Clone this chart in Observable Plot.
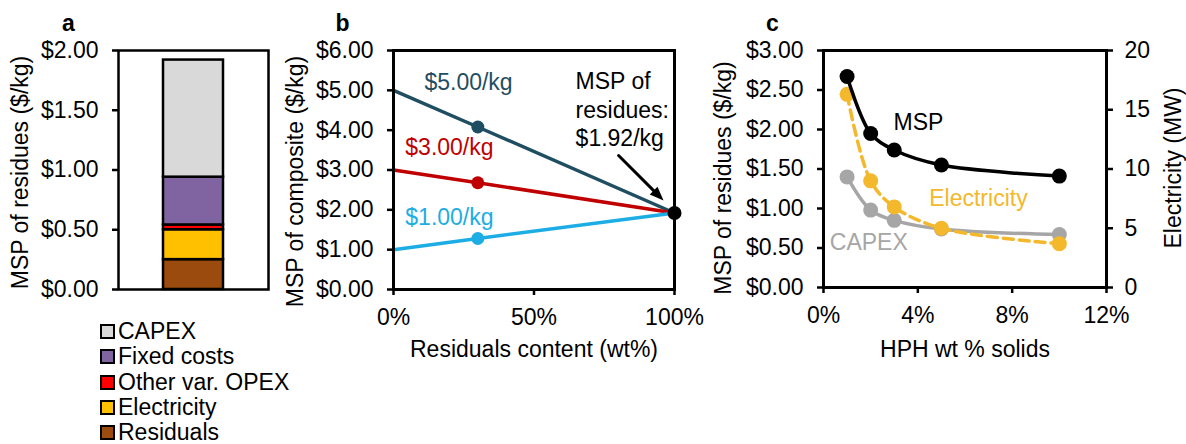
<!DOCTYPE html>
<html><head><meta charset="utf-8">
<script src="https://cdn.jsdelivr.net/npm/d3@7"></script>
<script src="https://cdn.jsdelivr.net/npm/@observablehq/plot@0.6"></script>
<style>
body{margin:0;background:#fff;font-family:"Liberation Sans",Arial,sans-serif;}
#chart{position:relative;width:1186px;height:444px;overflow:hidden;background:#fff;}
#chart svg{position:absolute;top:0;overflow:visible;background:transparent;max-width:none;}
#legend{position:absolute;left:100px;top:319px;font-size:23px;color:#000;}
.item{display:flex;align-items:center;height:25.3px;white-space:nowrap;}
.sw{width:11px;height:11px;border:2px solid #000;margin-right:3px;flex:none;}
</style></head><body><div id="chart"><div id="legend"></div></div>
<script>
// ---------- Panel a data ----------
const costComponents = ["Residuals", "Electricity", "Other var. OPEX", "Fixed costs", "CAPEX"];
const costValues = [0.25, 0.25, 0.04, 0.40, 0.98];
const costColors = ["#9A4B0D", "#FFC000", "#FF0000", "#8064A2", "#D9D9D9"];
const aTicks = [0, 0.5, 1, 1.5, 2];

// ---------- Panel b data ----------
const residualShare = [0, 0.3, 1];
const priceLabels = ["$5.00/kg", "$3.00/kg", "$1.00/kg"];
const price5 = [5.00, 4.08, 1.92];
const price3 = [3.00, 2.68, 1.92];
const price1 = [1.00, 1.28, 1.92];
const priceColors = ["#1F4E62", "#C00000", "#1CADE4"];
const mspResidues = 1.92;
const bYTicks = [0, 1, 2, 3, 4, 5, 6];
const bXTicks = [0, 0.5, 1];
const bLabelX = [0.267, 0.199, 0.199];
const bLabelY = [5.20, 3.565, 1.815];
const mspNote = "MSP of\nresidues:\n$1.92/kg";
const mspNoteAt = [0.648, 4.54];
const arrowFrom = [0.801, 3.364];
const arrowTo = [0.961, 2.234];

// ---------- Panel c data ----------
const solids = [0.01, 0.02, 0.03, 0.05, 0.10];
const msp = [2.67, 1.95, 1.74, 1.55, 1.41];
const capex = [1.40, 0.98, 0.85, 0.74, 0.67];
const electricityMW = [16.3, 9.0, 6.8, 5.0, 3.7];
const cXTicks = [0, 0.04, 0.08, 0.12];
const cYTicks = [0, 0.5, 1, 1.5, 2, 2.5, 3];
const cY2Ticks = [0, 5, 10, 15, 20];
const cLeftMax = 3, cRightMax = 20;
const cSeriesNames = ["MSP", "Electricity", "CAPEX"];
const cSeriesColors = ["#000000", "#F3B82C", "#A6A6A6"];
const cLabelX = [0.0403, 0.0657, 0.0192];
const cLabelY = [2.09, 1.12, 0.57];

const FONT = "'Liberation Sans', Arial, sans-serif";
const FS = 23;
const money = d3.format("$.2f");
const pct = d3.format(".0%");
const chart = document.getElementById("chart");
const baseStyle = {fontFamily: FONT, fontSize: FS + "px", background: "transparent", overflow: "visible", color: "#000"};

// ---------- Panel a ----------
const aData = costComponents.map((c, i) => ({cat: "MSP", component: c, value: costValues[i]}));
const plotA = Plot.plot({
  width: 275, height: 300,
  marginLeft: 118, marginRight: 7, marginTop: 50, marginBottom: 11,
  style: baseStyle,
  x: {type: "band", domain: ["MSP"], paddingInner: 0, paddingOuter: 0.74, axis: null},
  y: {domain: [0, 2]},
  color: {domain: costComponents, range: costColors},
  marks: [
    Plot.barY(aData, {x: "cat", y: "value", fill: "component", stroke: "#000", strokeWidth: 2.5}),
    Plot.frame({stroke: "#000", strokeWidth: 2.5}),
    Plot.axisY(aTicks, {tickSize: 6, tickPadding: 14, tickFormat: money, strokeWidth: 2.5, fontSize: FS, label: null}),
    Plot.text(["MSP of residues ($/kg)"], {text: d => d, frameAnchor: "left", rotate: -90, dx: -98, dy: 2.5, textAnchor: "middle", lineAnchor: "middle", fontSize: FS}),
    Plot.text(["a"], {text: d => d, frameAnchor: "top-left", dx: -50, dy: -20, textAnchor: "middle", lineAnchor: "bottom", fontWeight: "bold", fontSize: FS})
  ]
});
plotA.style.left = "0px";
chart.appendChild(plotA);

// legend for a (top-to-bottom reversed stack order)
const legend = document.getElementById("legend");
costComponents.slice().reverse().forEach(name => {
  const i = costComponents.indexOf(name);
  const row = document.createElement("div");
  row.className = "item";
  const sw = document.createElement("span");
  sw.className = "sw";
  sw.style.background = costColors[i];
  const t = document.createElement("span");
  t.textContent = name;
  row.appendChild(sw); row.appendChild(t);
  legend.appendChild(row);
});

// ---------- Panel b ----------
const priceSeries = [price5, price3, price1];
const bData = [];
priceSeries.forEach((vals, s) => residualShare.forEach((x, i) => bData.push({series: priceLabels[s], x, y: vals[i]})));
const bMid = bData.filter(d => d.x === residualShare[1]);
const bLabels = priceLabels.map((l, i) => ({label: l, x: bLabelX[i], y: bLabelY[i]}));
const plotB = Plot.plot({
  width: 520, height: 370,
  marginLeft: 193, marginRight: 46, marginTop: 50, marginBottom: 81,
  style: baseStyle,
  x: {domain: [0, 1]},
  y: {domain: [0, 6]},
  color: {domain: priceLabels, range: priceColors},
  marks: [
    Plot.line(bData, {x: "x", y: "y", z: "series", stroke: "series", strokeWidth: 3.5}),
    Plot.dot(bMid, {x: "x", y: "y", fill: "series", r: 6.5}),
    Plot.dot([mspResidues], {x: () => residualShare[2], y: d => d, fill: "#000", r: 7}),
    Plot.text(bLabels, {x: "x", y: "y", text: "label", fill: (d) => d.label, textAnchor: "middle", lineAnchor: "middle", fontSize: FS}),
    Plot.text([mspNote], {x: () => mspNoteAt[0], y: () => mspNoteAt[1], text: d => d, textAnchor: "start", lineAnchor: "middle", lineHeight: 1.24, fontSize: FS, fill: "#000"}),
    Plot.arrow([0], {x1: () => arrowFrom[0], y1: () => arrowFrom[1], x2: () => arrowTo[0], y2: () => arrowTo[1], stroke: "#000", strokeWidth: 3, headLength: 0, insetEnd: 8}),
    Plot.vector([0], {x: () => arrowTo[0], y: () => arrowTo[1], rotate: 135, length: 14, r: 5.5, shape: "spike", anchor: "end", fill: "#000", stroke: "none"}),
    Plot.frame({stroke: "#000", strokeWidth: 3}),
    Plot.axisY(bYTicks, {tickSize: 6, tickPadding: 14, tickFormat: money, strokeWidth: 2.5, fontSize: FS, label: null}),
    Plot.axisX(bXTicks, {tickSize: 6, tickPadding: 13, tickFormat: pct, strokeWidth: 2.5, fontSize: FS, label: null}),
    Plot.text(["MSP of composite ($/kg)"], {text: d => d, frameAnchor: "left", rotate: -90, dx: -98, dy: 11.5, textAnchor: "middle", lineAnchor: "middle", fontSize: FS}),
    Plot.text(["Residuals content (wt%)"], {text: d => d, frameAnchor: "bottom", dy: 67, textAnchor: "middle", lineAnchor: "bottom", fontSize: FS}),
    Plot.text(["b"], {text: d => d, frameAnchor: "top-left", dx: -51, dy: -20, textAnchor: "middle", lineAnchor: "bottom", fontWeight: "bold", fontSize: FS})
  ]
});
plotB.style.left = "200px";
chart.appendChild(plotB);

// ---------- Panel c ----------
const toLeft = v => v * cLeftMax / cRightMax;
const cData = solids.map((s, i) => ({solids: s, msp: msp[i], capex: capex[i], elec: electricityMW[i]}));
const cLabels = cSeriesNames.map((n, i) => ({name: n, x: cLabelX[i], y: cLabelY[i], color: cSeriesColors[i]}));
const plotC = Plot.plot({
  width: 486, height: 370,
  marginLeft: 123, marginRight: 80, marginTop: 50, marginBottom: 83,
  style: baseStyle,
  x: {domain: [0, 0.12]},
  y: {domain: [0, cLeftMax]},
  marks: [
    Plot.line(cData, {x: "solids", y: "capex", stroke: cSeriesColors[2], strokeWidth: 3.5, curve: "catmull-rom"}),
    Plot.dot(cData, {x: "solids", y: "capex", fill: cSeriesColors[2], r: 7.5}),
    Plot.line(cData, {x: "solids", y: d => toLeft(d.elec), stroke: cSeriesColors[1], strokeWidth: 3.5, strokeDasharray: "10,6", curve: "catmull-rom"}),
    Plot.dot(cData, {x: "solids", y: d => toLeft(d.elec), fill: cSeriesColors[1], r: 7.5}),
    Plot.line(cData, {x: "solids", y: "msp", stroke: cSeriesColors[0], strokeWidth: 3.5, curve: "catmull-rom"}),
    Plot.dot(cData, {x: "solids", y: "msp", fill: cSeriesColors[0], r: 7.5}),
    Plot.text(cLabels, {x: "x", y: "y", text: "name", fill: d => d.color, textAnchor: "middle", lineAnchor: "middle", fontSize: FS}),
    Plot.frame({stroke: "#000", strokeWidth: 3}),
    Plot.axisY(cYTicks, {tickSize: 6, tickPadding: 14, tickFormat: money, strokeWidth: 2.5, fontSize: FS, label: null}),
    Plot.axisY(cY2Ticks.map(toLeft), {anchor: "right", tickSize: 6, tickPadding: 12, tickFormat: d => String(Math.round(d * cRightMax / cLeftMax)), strokeWidth: 2.5, fontSize: FS, label: null}),
    Plot.axisX(cXTicks, {tickSize: 6, tickPadding: 13, tickFormat: pct, strokeWidth: 2.5, fontSize: FS, label: null}),
    Plot.text(["MSP of residues ($/kg)"], {text: d => d, frameAnchor: "left", rotate: -90, dx: -100, dy: 9, textAnchor: "middle", lineAnchor: "middle", fontSize: FS}),
    Plot.text(["Electricity (MW)"], {text: d => d, frameAnchor: "right", rotate: -90, dx: 67, dy: -1, textAnchor: "middle", lineAnchor: "middle", fontSize: FS}),
    Plot.text(["HPH wt % solids"], {text: d => d, frameAnchor: "bottom", dy: 69, textAnchor: "middle", lineAnchor: "bottom", fontSize: FS}),
    Plot.text(["c"], {text: d => d, frameAnchor: "top-left", dx: -51, dy: -20, textAnchor: "middle", lineAnchor: "bottom", fontWeight: "bold", fontSize: FS})
  ]
});
plotC.style.left = "700px";
chart.appendChild(plotC);
</script></body></html>
